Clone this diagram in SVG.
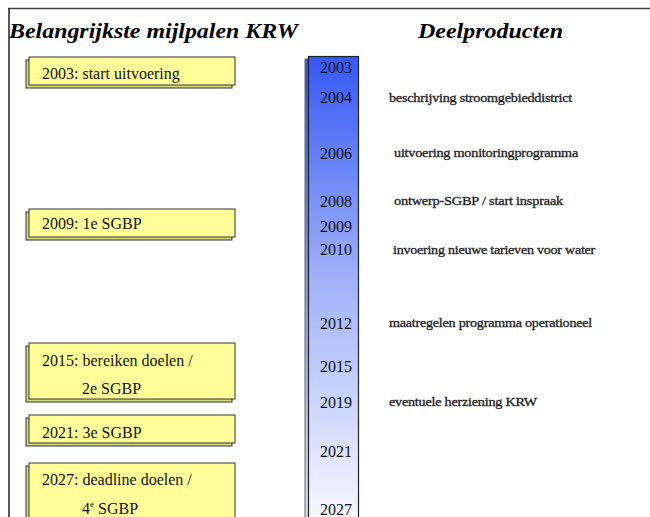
<svg xmlns="http://www.w3.org/2000/svg" width="650" height="517" viewBox="0 0 650 517">
<defs>
<linearGradient id="barg" gradientUnits="userSpaceOnUse" x1="0" y1="56" x2="0" y2="545">
<stop offset="0" stop-color="#3658f5"/>
<stop offset="0.45" stop-color="#9fb0f8"/>
<stop offset="1" stop-color="#ffffff"/>
</linearGradient>
<linearGradient id="barsh" gradientUnits="userSpaceOnUse" x1="0" y1="56" x2="0" y2="545">
<stop offset="0" stop-color="#2f50e0"/>
<stop offset="1" stop-color="#e8e8f0"/>
</linearGradient>
</defs>
<style>
text{font-family:'Liberation Serif','Times New Roman','DejaVu Serif',serif}
.title{font-weight:bold;font-style:italic;font-size:22px;fill:#000}
.box{fill:#ffff99;stroke:#333;stroke-width:1}
.shadow{fill:#d8d880;stroke:#333;stroke-width:1}
.lbl{font-size:16px;fill:#111}
.yr{font-size:16px;fill:#111;text-anchor:end}
.dp{font-size:13px;fill:#111;stroke:#333;stroke-width:0.35;letter-spacing:-0.2px}
</style>
<rect width="650" height="517" fill="#fff"/>
<g id="frame">
<line x1="8" y1="8.5" x2="650" y2="8.5" stroke="#444" stroke-width="1.5"/>
<line x1="9" y1="8" x2="9" y2="517" stroke="#222" stroke-width="1.5"/>
</g>
<g id="titles">
<text class="title" x="9" y="38" textLength="289" lengthAdjust="spacingAndGlyphs" font-family="Liberation Serif, serif">Belangrijkste mijlpalen KRW</text>
<text class="title" x="418" y="38" textLength="145" lengthAdjust="spacingAndGlyphs" font-family="Liberation Serif, serif">Deelproducten</text>
</g>
<g id="timeline" font-family="Liberation Serif, serif">
<rect x="305" y="59" width="50" height="470" fill="url(#barsh)" stroke="#666" stroke-width="1"/>
<rect x="308.5" y="56.5" width="50" height="470" fill="url(#barg)" stroke="#222" stroke-width="1.2"/>
<text class="yr" x="352" y="73">2003</text>
<text class="yr" x="352" y="103">2004</text>
<text class="yr" x="352" y="159">2006</text>
<text class="yr" x="352" y="207">2008</text>
<text class="yr" x="352" y="232">2009</text>
<text class="yr" x="352" y="255">2010</text>
<text class="yr" x="352" y="329">2012</text>
<text class="yr" x="352" y="372">2015</text>
<text class="yr" x="352" y="408">2019</text>
<text class="yr" x="352" y="457">2021</text>
<text class="yr" x="352" y="515">2027</text>
</g>
<g id="m2003" font-family="Liberation Serif, serif">
<rect class="shadow" x="26" y="60" width="206" height="28"/>
<rect class="box" x="29" y="57" width="206" height="28"/>
<text class="lbl" x="42" y="79">2003: start uitvoering</text>
</g>
<g id="m2009" font-family="Liberation Serif, serif">
<rect class="shadow" x="26" y="212" width="206" height="28"/>
<rect class="box" x="29" y="209" width="206" height="28"/>
<text class="lbl" x="42" y="229">2009: 1e SGBP</text>
</g>
<g id="m2015" font-family="Liberation Serif, serif">
<rect class="shadow" x="26" y="346" width="206" height="56"/>
<rect class="box" x="29" y="343" width="206" height="56"/>
<text class="lbl" x="42" y="366">2015: bereiken doelen /</text>
<text class="lbl" x="82" y="394">2e SGBP</text>
</g>
<g id="m2021" font-family="Liberation Serif, serif">
<rect class="shadow" x="26" y="418" width="206" height="28"/>
<rect class="box" x="29" y="415" width="206" height="28"/>
<text class="lbl" x="42" y="438">2021: 3e SGBP</text>
</g>
<g id="m2027" font-family="Liberation Serif, serif">
<rect class="shadow" x="26" y="466" width="206" height="70"/>
<rect class="box" x="29" y="463" width="206" height="70"/>
<text class="lbl" x="42" y="485">2027: deadline doelen /</text>
<text class="lbl" x="82" y="514">4<tspan font-size="9" dy="-7">e</tspan><tspan dy="7"> SGBP</tspan></text>
</g>
<g id="deelproducten" font-family="Liberation Serif, serif">
<text class="dp" x="389" y="102" textLength="183" lengthAdjust="spacingAndGlyphs">beschrijving stroomgebieddistrict</text>
<text class="dp" x="394" y="157" textLength="184" lengthAdjust="spacingAndGlyphs">uitvoering  monitoringprogramma</text>
<text class="dp" x="394" y="205" textLength="169" lengthAdjust="spacingAndGlyphs">ontwerp-SGBP / start inspraak</text>
<text class="dp" x="393" y="254" textLength="202" lengthAdjust="spacingAndGlyphs">invoering nieuwe tarieven voor water</text>
<text class="dp" x="389" y="327" textLength="203" lengthAdjust="spacingAndGlyphs">maatregelen programma operationeel</text>
<text class="dp" x="389" y="406" textLength="148" lengthAdjust="spacingAndGlyphs">eventuele herziening KRW</text>
</g>
</svg>
